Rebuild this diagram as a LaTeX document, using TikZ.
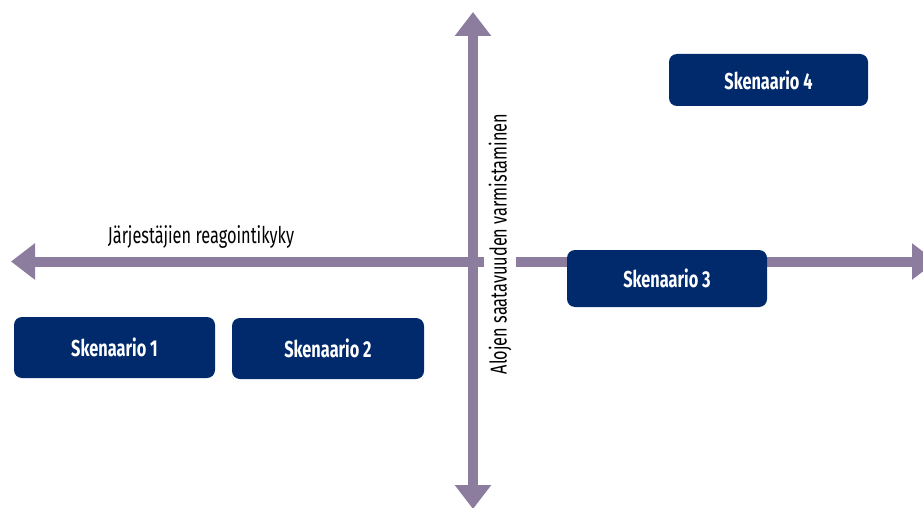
\documentclass[tikz,border=0pt]{standalone}
\usepackage{fontspec}
\setmainfont{Fira Sans}[FakeStretch=0.71]
\usetikzlibrary{arrows.meta}

\definecolor{axisgray}{RGB}{140,125,158}
\definecolor{scenblue}{RGB}{0,42,108}

\begin{document}
\begin{tikzpicture}[x=1pt, y=1pt, font=\fontsize{23}{26}\selectfont,
  axtip/.tip={Triangle[length=24pt, width=35pt]},
  axis/.style={line width=10pt, draw=axisgray, axtip-axtip},
  scen/.style={fill=scenblue, text=white, rounded corners=8pt,
    font=\fontsize{23}{26}\selectfont\bfseries, inner sep=0pt}]
  \useasboundingbox (0,0) rectangle (923,507);
  \clip (0,0) rectangle (923,507);
  % axes
  \coordinate (west) at (11,245.5);
  \coordinate (east) at (936,245.5);
  \coordinate (north) at (473,495);
  \coordinate (south) at (473,-2);
  \draw[axis] (west) -- (east);
  \draw[axis] (south) -- (north);
  \node[anchor=base] (reagointi) at (201,264) {Järjestäjien reagointikyky};
  \node[rotate=90, fill=white, inner xsep=2pt, inner ysep=5pt] (saatavuus) at (500,263)
    {Alojen saatavuuden varmistaminen};
  % scenarios
  \node[scen, minimum width=201pt, minimum height=61pt] (scen1) at (114.5,159.5) {Skenaario 1};
  \node[scen, minimum width=192pt, minimum height=61pt] (scen2) at (328,158.5) {Skenaario 2};
  \node[scen, minimum width=200pt, minimum height=57pt] (scen3) at (667,228.5) {Skenaario 3};
  \node[scen, minimum width=199pt, minimum height=52pt] (scen4) at (768.5,427) {Skenaario 4};
\end{tikzpicture}
\end{document}
